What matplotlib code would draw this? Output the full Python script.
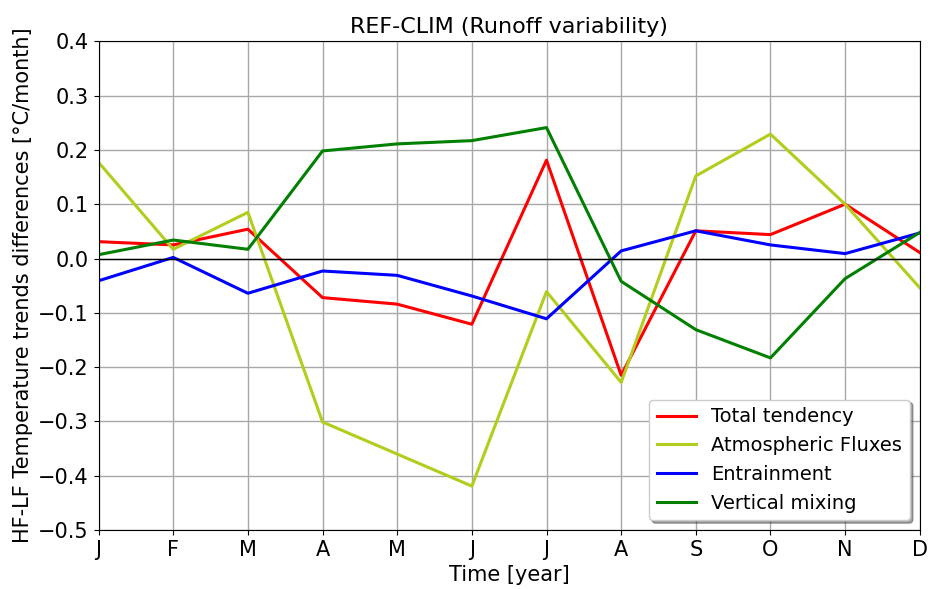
import numpy as np
import matplotlib.pyplot as plt

months = ['J', 'F', 'M', 'A', 'M', 'J', 'J', 'A', 'S', 'O', 'N', 'D']

total_tendency = [0.031, 0.025, 0.054, -0.072, -0.084, -0.121, 0.181, -0.215, 0.051, 0.044, 0.100, 0.011]
atm_fluxes = [0.177, 0.017, 0.085, -0.301, -0.360, -0.419, -0.061, -0.228, 0.152, 0.229, 0.100, -0.054]
entrainment = [-0.041, 0.002, -0.064, -0.023, -0.031, -0.069, -0.111, 0.014, 0.051, 0.025, 0.009, 0.047]
vertical_mixing = [0.007, 0.034, 0.017, 0.198, 0.211, 0.217, 0.241, -0.042, -0.131, -0.183, -0.037, 0.048]

x = np.arange(len(months))

fig = plt.figure(figsize=(9.3, 5.89), dpi=100)
ax = fig.add_axes([0.106, 0.100, 0.883, 0.830])

ax.plot(x, total_tendency, color='r', lw=2.2, label='Total tendency')
ax.plot(x, atm_fluxes, color='#b4cc1c', lw=2.2, label='Atmospheric Fluxes')
ax.plot(x, entrainment, color='b', lw=2.2, label='Entrainment')
ax.plot(x, vertical_mixing, color='g', lw=2.2, label='Vertical mixing')
ax.axhline(0, color='k', lw=1)

ax.set_xlim(0, 11)
ax.set_ylim(-0.5, 0.4)
ax.set_xticks(x)
ax.set_xticklabels(months)
ax.set_yticks(np.arange(-0.5, 0.41, 0.1))
ax.tick_params(labelsize=15)
ax.grid(True, color='#a8a8a8', lw=1)

ax.set_title('REF-CLIM (Runoff variability)', fontsize=16)
ax.set_xlabel('Time [year]', fontsize=15)
ax.set_ylabel('HF-LF Temperature trends differences [°C/month]', fontsize=15)
ax.legend(loc='lower right', fontsize=14, shadow=True, framealpha=1)

fig.savefig('out.png', dpi=100)
